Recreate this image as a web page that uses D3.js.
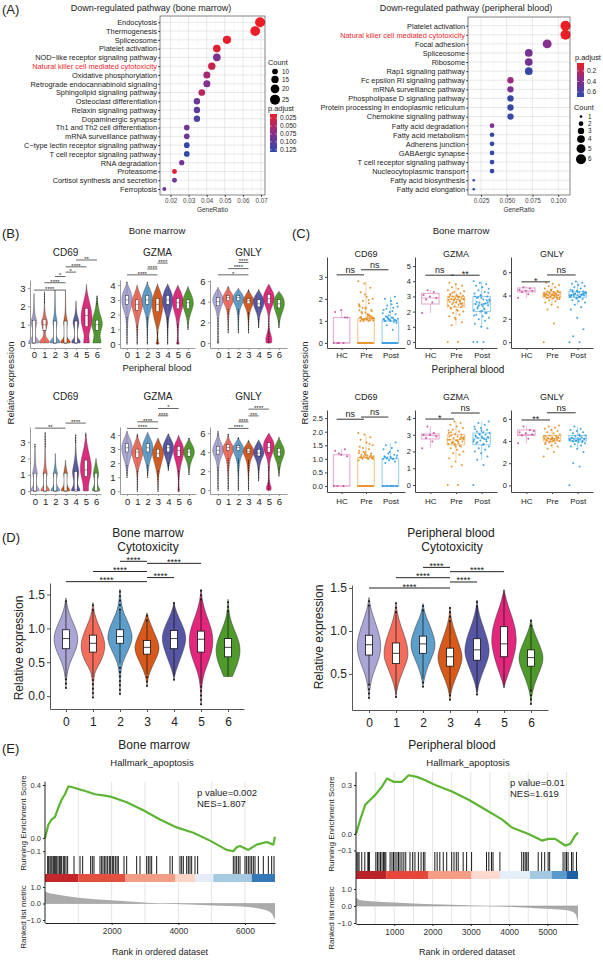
<!DOCTYPE html>
<html>
<head>
<meta charset="utf-8">
<script src="https://cdn.jsdelivr.net/npm/d3@7"></script>
<style>
  body { margin: 0; background: #fff; }
  text { font-family: "Liberation Sans", Arial, sans-serif; }
</style>
</head>
<body>
<svg width="603" height="960"></svg>
<script>
// ---------- data: (A) enrichment dot plots ----------
const bmPathways = ['Endocytosis', 'Thermogenesis', 'Spliceosome', 'Platelet activation',
  'NOD\u2212like receptor signaling pathway', 'Natural killer cell mediated cytotoxicity',
  'Oxidative phosphorylation', 'Retrograde endocannabinoid signaling', 'Sphingolipid signaling pathway',
  'Osteoclast differentiation', 'Relaxin signaling pathway', 'Dopaminergic synapse',
  'Th1 and Th2 cell differentiation', 'mRNA surveillance pathway', 'C\u2212type lectin receptor signaling pathway',
  'T cell receptor signaling pathway', 'RNA degradation', 'Proteasome', 'Cortisol synthesis and secretion', 'Ferroptosis']
const bmRatio = [0.0695, 0.0668, 0.0512, 0.0456, 0.0456, 0.0428, 0.0401, 0.0401, 0.0373, 0.0346, 0.0346, 0.0346,
  0.0290, 0.0290, 0.0290, 0.0290, 0.0262, 0.0222, 0.0222, 0.0166]
const bmCount = [25, 24, 18, 16, 16, 15, 14, 14, 13, 12, 12, 12, 10, 10, 10, 10, 9, 8, 8, 6]
const bmPadj = [0.012, 0.014, 0.016, 0.02, 0.08, 0.035, 0.055, 0.075, 0.045, 0.092, 0.1, 0.112,
  0.088, 0.09, 0.128, 0.128, 0.085, 0.022, 0.09, 0.088]
const bmTicks = [0.02, 0.03, 0.04, 0.05, 0.06, 0.07]
const bmCountLegend = [10, 15, 20, 25]
const bmPadjLegend = [0.025, 0.05, 0.075, 0.1, 0.125]

const pbPathways = ['Platelet activation', 'Natural killer cell mediated cytotoxicity', 'Focal adhesion',
  'Spliceosome', 'Ribosome', 'Rap1 signaling pathway', 'Fc epsilon RI signaling pathway',
  'mRNA surveillance pathway', 'Phospholipase D signaling pathway', 'Protein processing in endoplasmic reticulum',
  'Chemokine signaling pathway', 'Fatty acid degradation', 'Fatty acid metabolism', 'Adherens junction',
  'GABAergic synapse', 'T cell receptor signaling pathway', 'Nucleocytoplasmic transport',
  'Fatty acid biosynthesis', 'Fatty acid elongation']
const pbRatio = [0.1071, 0.1071, 0.0893, 0.0714, 0.0714, 0.0714, 0.0536, 0.0536, 0.0536, 0.0536, 0.0536,
  0.0357, 0.0357, 0.0357, 0.0357, 0.0357, 0.0357, 0.0179, 0.0179]
const pbCount = [6, 6, 5, 4, 4, 4, 3, 3, 3, 3, 3, 2, 2, 2, 2, 2, 2, 1, 1]
const pbPadj = [0.05, 0.05, 0.38, 0.44, 0.44, 0.66, 0.32, 0.42, 0.66, 0.66, 0.66, 0.42, 0.66, 0.66,
  0.66, 0.66, 0.66, 0.68, 0.68]
const pbTicks = [0.025, 0.05, 0.075, 0.1]
const pbCountLegend = [1, 2, 3, 4, 5, 6]
const pbPadjLegend = [0.2, 0.4, 0.6]

// ---------- data: (B)/(D) violins, knots are [value, relative width] ----------
const clusters = ['0', '1', '2', '3', '4', '5', '6']
const clusterColors = ['#a9a5d5', '#f36c5c', '#5d9ecb', '#d75a1c', '#5656a4', '#e2277c', '#4e9a2b']

const bmCD69Violin = [
  [[0, 0.85], [0.1, 1], [0.25, 0.45], [0.45, 0.15], [0.7, 0.2], [1.0, 0.45], [1.2, 0.55], [1.4, 0.3], [1.7, 0.1], [2.2, 0.03], [2.7, 0]],
  [[0, 0.8], [0.1, 0.9], [0.25, 0.4], [0.45, 0.12], [0.7, 0.2], [1.0, 0.5], [1.15, 0.6], [1.35, 0.3], [1.7, 0.08], [2.2, 0.03], [2.8, 0]],
  [[0, 0.8], [0.1, 0.9], [0.25, 0.4], [0.45, 0.12], [0.7, 0.15], [1.0, 0.35], [1.2, 0.4], [1.45, 0.2], [1.8, 0.06], [2.9, 0]],
  [[0, 0.8], [0.1, 0.9], [0.25, 0.35], [0.45, 0.1], [0.7, 0.12], [1.0, 0.3], [1.2, 0.35], [1.45, 0.15], [1.8, 0.05], [2.9, 0]],
  [[0, 0.7], [0.1, 0.8], [0.25, 0.35], [0.45, 0.12], [0.7, 0.25], [1.0, 0.5], [1.2, 0.55], [1.45, 0.25], [1.8, 0.06], [2.3, 0]],
  [[0, 0.5], [0.15, 0.5], [0.4, 0.35], [0.7, 0.6], [1.0, 0.85], [1.4, 1], [1.8, 0.85], [2.2, 0.55], [2.6, 0.25], [2.9, 0.08], [3.2, 0]],
  [[0, 0.7], [0.15, 0.7], [0.4, 0.45], [0.7, 0.7], [1.0, 1], [1.3, 0.85], [1.6, 0.5], [2.0, 0.2], [2.6, 0]]
]
const bmCD69Box = [[0, 0, 1.25], [0.7, 1.0, 1.3], [0, 0, 1.2], [0, 0, 1.2], [0, 0, 1.2], [0.9, 1.5, 1.9], [0.7, 1.0, 1.25]]
const bmCD69Sig = [[0, 3, '****', 2.89], [1, 3, '****', 3.29], [2, 3, '*', 3.63], [3, 4, '*', 3.87], [3, 5, '****', 4.16], [4, 6, '**', 4.53]]

const bmGZMAViolin = [
  [[0, 0], [0.8, 0.05], [1.5, 0.12], [2.0, 0.3], [2.5, 0.75], [3.0, 1], [3.5, 0.75], [3.9, 0.25], [4.2, 0]],
  [[0, 0], [0.8, 0.06], [1.5, 0.2], [2.0, 0.55], [2.5, 0.9], [2.8, 1], [3.2, 0.7], [3.6, 0.3], [4.0, 0]],
  [[0, 0], [0.8, 0.05], [1.5, 0.12], [2.0, 0.3], [2.5, 0.75], [3.0, 1], [3.5, 0.75], [3.9, 0.25], [4.2, 0]],
  [[0, 0.3], [0.3, 0.05], [1.0, 0.1], [1.5, 0.45], [2.0, 0.75], [2.5, 0.95], [3.0, 0.95], [3.5, 0.55], [3.9, 0.15], [4.1, 0]],
  [[0, 0], [0.8, 0.05], [1.5, 0.12], [2.0, 0.3], [2.5, 0.75], [3.0, 1], [3.5, 0.7], [3.9, 0.2], [4.1, 0]],
  [[0, 0.25], [0.3, 0.05], [1.0, 0.08], [1.8, 0.3], [2.3, 0.7], [2.8, 1], [3.3, 0.8], [3.7, 0.35], [4.0, 0]],
  [[1.0, 0], [1.5, 0.1], [2.0, 0.4], [2.5, 0.85], [2.8, 1], [3.2, 0.8], [3.6, 0.3], [3.9, 0]]
]
const bmGZMABox = [[2.7, 3.0, 3.3], [2.3, 2.7, 3.0], [2.7, 3.0, 3.3], [2.2, 2.7, 3.1], [2.7, 3.0, 3.3], [2.4, 2.8, 3.1], [2.4, 2.8, 3.0]]
const bmGZMASig = [[0, 3, '****', 4.7], [2, 3, '****', 5.1], [3, 4, '****', 5.5]]

const bmGNLYViolin = [
  [[0, 0.15], [0.3, 0.03], [1.5, 0.05], [2.5, 0.1], [3.2, 0.35], [3.8, 0.8], [4.2, 1], [4.6, 0.75], [5.0, 0.35], [5.4, 0]],
  [[1.0, 0], [2, 0.05], [3.0, 0.15], [3.6, 0.5], [4.0, 0.9], [4.4, 1], [4.8, 0.65], [5.2, 0.2], [5.5, 0]],
  [[1.0, 0], [2, 0.05], [3.0, 0.15], [3.6, 0.5], [4.0, 0.9], [4.4, 1], [4.8, 0.65], [5.1, 0.2], [5.3, 0]],
  [[1.0, 0], [2, 0.05], [3.0, 0.2], [3.6, 0.65], [4.0, 1], [4.3, 0.9], [4.7, 0.45], [5.0, 0.1], [5.2, 0]],
  [[1.5, 0], [2.5, 0.15], [3.0, 0.4], [3.5, 0.8], [3.9, 1], [4.3, 0.9], [4.7, 0.5], [5.0, 0.15], [5.2, 0]],
  [[0, 0.45], [0.4, 0.6], [0.9, 0.3], [1.5, 0.04], [2.5, 0.06], [3.2, 0.3], [3.8, 0.75], [4.3, 1], [4.8, 0.85], [5.3, 0.4], [5.7, 0]],
  [[1.5, 0], [2.2, 0.15], [2.8, 0.45], [3.3, 0.8], [3.8, 1], [4.3, 0.85], [4.7, 0.45], [5.0, 0]]
]
const bmGNLYBox = [[3.6, 4.0, 4.4], [4.1, 4.4, 4.6], [4.1, 4.4, 4.6], [3.8, 4.1, 4.3], [3.5, 3.8, 4.2], [3.8, 4.3, 4.7], [3.4, 3.8, 4.2]]
const bmGNLYSig = [[0, 3, '*', 6.6], [1, 3, '****', 7.2], [2, 3, '****', 7.8]]

const pbCD69Violin = [
  [[0, 0.7], [0.1, 0.8], [0.3, 0.3], [0.6, 0.1], [0.9, 0.3], [1.1, 0.45], [1.3, 0.3], [1.7, 0.08], [2.9, 0]],
  [[0, 0.7], [0.1, 0.8], [0.3, 0.3], [0.6, 0.1], [0.9, 0.3], [1.1, 0.4], [1.3, 0.25], [1.7, 0.06], [3.6, 0]],
  [[0, 0.7], [0.1, 0.8], [0.3, 0.3], [0.6, 0.1], [0.9, 0.3], [1.1, 0.4], [1.3, 0.2], [1.7, 0.05], [2.3, 0]],
  [[0, 0.7], [0.1, 0.8], [0.3, 0.3], [0.6, 0.1], [0.9, 0.25], [1.1, 0.35], [1.3, 0.2], [1.7, 0.05], [1.9, 0]],
  [[0, 0.7], [0.1, 0.8], [0.3, 0.4], [0.6, 0.3], [0.9, 0.5], [1.2, 0.6], [1.5, 0.4], [2.0, 0.15], [2.6, 0.04], [3.5, 0]],
  [[0, 0.45], [0.2, 0.45], [0.5, 0.5], [0.9, 0.8], [1.3, 1], [1.8, 0.9], [2.3, 0.55], [2.8, 0.25], [3.3, 0.08], [3.6, 0]],
  [[0, 0.6], [0.1, 0.7], [0.3, 0.35], [0.6, 0.2], [0.9, 0.45], [1.1, 0.5], [1.4, 0.3], [1.8, 0.08], [2.0, 0]]
]
const pbCD69Box = [[0, 0, 1.1], [0, 0, 1.1], [0, 0, 1.1], [0, 0, 1.1], [0, 0.1, 1.2], [0.9, 1.3, 1.9], [0, 0, 1.1]]
const pbCD69Sig = [[0, 3, '**', 3.86], [3, 5, '****', 4.17]]

const pbGZMAViolin = [
  [[1.0, 0], [1.5, 0.1], [2.0, 0.3], [2.5, 0.7], [3.0, 1], [3.5, 0.8], [3.9, 0.3], [4.3, 0]],
  [[0, 0], [1.0, 0.05], [1.5, 0.15], [2.0, 0.5], [2.5, 0.9], [2.8, 1], [3.2, 0.7], [3.7, 0.2], [4.1, 0]],
  [[1.0, 0], [1.5, 0.1], [2.0, 0.3], [2.5, 0.7], [3.0, 1], [3.5, 0.8], [3.9, 0.3], [4.2, 0]],
  [[0, 0], [1.0, 0.08], [1.5, 0.3], [2.0, 0.6], [2.5, 0.95], [2.8, 1], [3.2, 0.65], [3.6, 0.2], [3.8, 0]],
  [[1.5, 0], [2.0, 0.2], [2.5, 0.6], [3.0, 1], [3.4, 0.85], [3.8, 0.35], [4.1, 0]],
  [[0, 0.15], [0.4, 0.05], [1.0, 0.08], [1.8, 0.3], [2.4, 0.75], [2.9, 1], [3.4, 0.65], [3.8, 0.15], [4.0, 0]],
  [[1.2, 0], [1.7, 0.12], [2.2, 0.45], [2.6, 0.9], [2.8, 1], [3.2, 0.75], [3.5, 0.3], [3.8, 0]]
]
const pbGZMABox = [[2.8, 3.1, 3.4], [2.4, 2.8, 3.0], [2.8, 3.1, 3.4], [2.4, 2.7, 3.0], [2.8, 3.1, 3.3], [2.5, 2.9, 3.2], [2.5, 2.8, 3.0]]
const pbGZMASig = [[0, 3, '****', 4.48], [1, 3, '****', 4.95], [3, 4, '****', 5.38], [3, 5, '*', 5.9]]

const pbGNLYViolin = [
  [[0, 0], [1, 0.04], [2, 0.08], [3, 0.25], [3.6, 0.65], [4.1, 1], [4.6, 0.85], [5.2, 0.4], [5.7, 0.1], [6.2, 0]],
  [[0, 0], [1.5, 0.05], [3, 0.2], [3.6, 0.55], [4.1, 0.9], [4.5, 1], [4.9, 0.6], [5.4, 0.15], [5.9, 0]],
  [[0, 0], [1.5, 0.05], [3, 0.2], [3.6, 0.55], [4.1, 0.9], [4.5, 1], [4.9, 0.6], [5.3, 0.15], [5.6, 0]],
  [[0, 0], [1.5, 0.05], [3, 0.25], [3.6, 0.7], [4.0, 1], [4.4, 0.85], [4.8, 0.4], [5.1, 0.1], [5.3, 0]],
  [[1.0, 0], [2, 0.05], [3, 0.3], [3.5, 0.75], [3.9, 1], [4.4, 0.8], [4.9, 0.35], [5.3, 0]],
  [[0, 0.35], [0.3, 0.5], [0.7, 0.15], [1.5, 0.04], [3, 0.15], [3.6, 0.45], [4.2, 0.85], [4.7, 1], [5.2, 0.8], [5.6, 0.4], [6.0, 0]],
  [[1.5, 0], [2.5, 0.2], [3.2, 0.55], [3.7, 0.9], [4.1, 1], [4.6, 0.8], [5.0, 0.4], [5.4, 0.1], [5.6, 0]]
]
const pbGNLYBox = [[3.8, 4.2, 4.6], [4.2, 4.5, 4.8], [4.2, 4.5, 4.7], [3.9, 4.1, 4.4], [3.6, 3.9, 4.3], [4.0, 4.5, 5.0], [3.6, 4.0, 4.4]]
const pbGNLYSig = [[1, 3, '****', 6.5], [2, 3, '****', 7.19], [3, 4, '***', 7.82], [3, 5, '****', 8.53]]

const cytoBmViolin = [
  [[0.12, 0], [0.25, 0.04], [0.4, 0.15], [0.55, 0.45], [0.7, 0.85], [0.85, 1], [1.0, 0.8], [1.15, 0.4], [1.3, 0.12], [1.45, 0]],
  [[-0.02, 0], [0.2, 0.04], [0.35, 0.12], [0.45, 0.45], [0.6, 0.85], [0.75, 1], [0.9, 0.8], [1.05, 0.45], [1.2, 0.12], [1.38, 0]],
  [[0.03, 0], [0.35, 0.05], [0.5, 0.2], [0.65, 0.6], [0.8, 0.95], [0.9, 1], [1.05, 0.75], [1.2, 0.35], [1.35, 0.1], [1.58, 0]],
  [[0.15, 0], [0.3, 0.1], [0.45, 0.45], [0.6, 0.85], [0.7, 1], [0.8, 0.9], [0.95, 0.55], [1.1, 0.2], [1.23, 0]],
  [[0.24, 0], [0.35, 0.1], [0.5, 0.4], [0.7, 0.8], [0.85, 1], [1.0, 0.8], [1.15, 0.4], [1.3, 0.08], [1.38, 0]],
  [[-0.12, 0], [0.2, 0.05], [0.4, 0.35], [0.6, 0.8], [0.8, 1], [1.0, 0.85], [1.2, 0.4], [1.4, 0.1], [1.58, 0]],
  [[0.29, 0.35], [0.4, 0.6], [0.55, 0.9], [0.7, 1], [0.85, 0.8], [1.0, 0.45], [1.15, 0.15], [1.3, 0.04], [1.43, 0]]
]
const cytoBmBox = [[0.7, 0.85, 0.98], [0.65, 0.78, 0.9], [0.78, 0.88, 0.98], [0.62, 0.72, 0.82], [0.7, 0.85, 0.97], [0.65, 0.84, 0.96], [0.58, 0.72, 0.85]]
const cytoBmSig = [[0, 3, '****', 1.69], [1, 3, '****', 1.84], [2, 3, '****', 1.99], [3, 4, '****', 1.75], [3, 5, '****', 1.96]]

const cytoPbViolin = [
  [[0.22, 0], [0.35, 0.08], [0.5, 0.3], [0.65, 0.75], [0.8, 1], [0.95, 0.85], [1.1, 0.5], [1.25, 0.15], [1.39, 0]],
  [[0.23, 0], [0.35, 0.1], [0.5, 0.45], [0.65, 0.9], [0.75, 1], [0.9, 0.8], [1.05, 0.4], [1.2, 0.1], [1.33, 0]],
  [[0.35, 0], [0.45, 0.1], [0.6, 0.4], [0.75, 0.9], [0.85, 1], [0.95, 0.85], [1.1, 0.45], [1.2, 0.15], [1.32, 0]],
  [[0.2, 0], [0.35, 0.15], [0.5, 0.6], [0.65, 1], [0.75, 0.95], [0.9, 0.6], [1.05, 0.25], [1.15, 0.08], [1.28, 0]],
  [[0.26, 0], [0.4, 0.15], [0.55, 0.55], [0.7, 0.95], [0.8, 1], [0.95, 0.75], [1.1, 0.35], [1.25, 0.08], [1.36, 0]],
  [[0.34, 0], [0.45, 0.2], [0.6, 0.6], [0.8, 0.95], [0.9, 1], [1.05, 0.9], [1.2, 0.55], [1.35, 0.2], [1.48, 0]],
  [[0.15, 0], [0.3, 0.1], [0.45, 0.45], [0.6, 0.9], [0.7, 1], [0.8, 0.8], [0.95, 0.35], [1.05, 0.1], [1.14, 0]]
]
const cytoPbBox = [[0.72, 0.84, 0.95], [0.62, 0.74, 0.86], [0.74, 0.85, 0.94], [0.59, 0.7, 0.8], [0.66, 0.78, 0.91], [0.7, 0.85, 1.05], [0.59, 0.69, 0.78]]
const cytoPbSig = [[0, 3, '****', 1.5], [1, 3, '****', 1.62], [2, 3, '****', 1.74], [3, 4, '****', 1.57], [3, 5, '****', 1.69]]

// ---------- data: (C) box + jitter ----------
const groups = ['HC', 'Pre', 'Post']
const groupColors = ['#c4499c', '#e38c1e', '#2c9ae0']
const groupBoxColors = ['#e4a6cf', '#f2c48d', '#92cbef']

const cBmCD69Pts = [
  [0, 0, 0, 1.15, 1.5, 1.4, 1.15, 0],
  [0, 0, 0, 0, 0, 0, 0, 0, 0, 0, 0, 0, 0, 0, 1.0, 1.05, 1.1, 1.1, 1.15, 1.2, 1.05, 1.12, 1.3, 1.4, 1.5, 1.6, 1.7, 1.8, 1.9, 2.0,
    2.1, 2.3, 2.5, 2.7, 2.8, 1.25, 1.35, 1.45, 1.55, 1.65, 1.1, 1.0, 1.02, 1.08, 1.18, 1.22, 2.2, 1.75, 1.95, 1.6, 1.15, 1.05,
    1.0, 1.03, 1.07, 1.12, 1.17, 1.09, 1.14, 1.38, 1.48, 1.28],
  [0, 0, 0, 0, 0, 0, 0, 0, 0, 0, 0, 0, 0, 0, 0.6, 0.8, 0.9, 1.0, 1.0, 1.05, 1.1, 1.1, 1.15, 1.2, 1.3, 1.4, 1.5, 1.6, 1.7, 1.8,
    1.9, 2.0, 2.1, 1.25, 1.35, 1.45, 1.55, 1.0, 1.02, 1.08, 0.95, 1.12, 1.65, 1.75, 1.0, 1.04, 1.06, 1.09, 1.13, 1.18]
]
const cBmCD69Box = [[0, 0, 0, 1.15, 1.5], [0, 0, 0, 1.1, 2.8], [0, 0, 0, 1.0, 2.1]]
const cBmCD69Sig = [[0, 1, 'ns', 3.09], [1, 2, 'ns', 3.32]]

const cBmGZMAPts = [
  [1.9, 2.6, 2.8, 2.9, 3.0, 3.1, 3.3, 3.4],
  [0, 0, 1.1, 1.3, 1.5, 1.7, 1.8, 1.9, 2.0, 2.1, 2.2, 2.3, 2.35, 2.4, 2.45, 2.5, 2.55, 2.6, 2.65, 2.7, 2.75, 2.8, 2.8,
    2.85, 2.9, 2.9, 2.95, 3.0, 3.0, 3.05, 3.1, 3.15, 3.2, 3.3, 3.4, 3.5, 3.6, 3.7, 3.8, 3.9, 2.7, 2.6, 2.85, 3.0, 2.2, 2.5, 1.6,
    2.75, 2.95, 3.25, 2.4, 2.65, 3.1, 2.55, 2.8, 3.35, 2.05],
  [0, 0, 0, 0.9, 1.0, 1.2, 1.4, 1.5, 1.6, 1.7, 1.8, 1.9, 2.0, 2.1, 2.2, 2.3, 2.4, 2.45, 2.5, 2.55, 2.6, 2.7, 2.8, 2.9,
    3.0, 3.1, 3.2, 3.3, 3.4, 3.5, 3.6, 3.7, 3.8, 3.9, 4.0, 2.5, 2.2, 2.6, 2.9, 3.0, 1.9, 2.4, 2.8,
    2.35, 2.65, 2.75, 3.05, 1.75, 2.15, 2.95, 3.25, 2.05]
]
const cBmGZMABox = [[1.9, 2.5, 2.9, 3.2, 3.4], [1.1, 2.3, 2.8, 3.0, 3.9], [0.9, 2.0, 2.5, 3.0, 4.0]]
const cBmGZMASig = [[0, 1, 'ns', 4.4], [1, 2, '**', 4.4]]

const cBmGNLYPts = [
  [3.8, 4.1, 4.3, 4.4, 4.4, 4.5, 4.6, 4.7],
  [0, 1.6, 2.8, 3.0, 3.2, 3.4, 3.5, 3.6, 3.7, 3.75, 3.8, 3.85, 3.9, 3.95, 4.0, 4.0, 4.05, 4.1, 4.1, 4.15, 4.2, 4.25,
    4.3, 4.35, 4.4, 4.5, 4.6, 4.7, 4.8, 4.9, 5.0, 5.1, 4.0, 3.9, 4.1, 4.2, 3.8, 4.3, 4.05,
    3.95, 4.15, 4.25, 3.85, 4.0, 4.1, 3.7, 4.45, 4.2, 3.9],
  [0, 0, 0.5, 1.1, 2.1, 2.8, 3.0, 3.2, 3.4, 3.5, 3.6, 3.7, 3.8, 3.85, 3.9, 3.95, 4.0, 4.0, 4.05, 4.1, 4.15, 4.2, 4.25,
    4.3, 4.35, 4.4, 4.5, 4.6, 4.7, 4.8, 4.9, 5.0, 5.1, 5.2, 4.0, 3.9, 4.1, 4.2, 4.3,
    3.95, 4.05, 4.15, 4.25, 3.85, 4.45, 4.1, 3.75]
]
const cBmGNLYBox = [[3.8, 4.3, 4.4, 4.65, 4.8], [3.2, 3.8, 4.05, 4.3, 4.9], [3.2, 3.85, 4.05, 4.35, 5.2]]
const cBmGNLYSig = [[0, 1, '*', 5.17], [1, 2, 'ns', 5.76]]

const cPbCD69Pts = [
  [0, 0, 0, 1.1, 1.15, 1.3, 1.35, 1.2],
  [0, 0, 0, 0, 0, 0, 0, 0, 0, 0, 0, 0, 0, 0.95, 1.0, 1.0, 1.02, 1.05, 1.05, 1.08, 1.1, 1.1, 1.12, 1.15, 1.2, 1.25, 1.3, 1.35,
    1.4, 1.5, 1.6, 1.7, 1.8, 1.9, 1.95, 1.0, 1.03, 1.07, 1.15, 1.45, 1.55, 1.25, 1.0, 1.04, 1.09, 1.13, 1.18, 1.22],
  [0, 0, 0, 0, 0, 0, 0, 0, 0, 0, 0.85, 0.9, 0.95, 1.0, 1.0, 1.02, 1.05, 1.08, 1.1, 1.15, 1.2, 1.3, 1.4, 1.5, 1.6, 1.25,
    1.35, 1.0, 1.05, 1.12, 1.03, 1.07]
]
const cPbCD69Box = [[0, 0, 0, 1.15, 1.35], [0, 0, 0, 1.05, 1.9], [0, 0, 0, 1.0, 1.6]]
const cPbCD69Sig = [[0, 1, 'ns', 2.46], [1, 2, 'ns', 2.54]]

const cPbGZMAPts = [
  [2.2, 2.6, 2.8, 2.9, 3.0, 3.0, 3.1, 3.5],
  [0, 0, 1.1, 1.2, 1.4, 1.6, 1.8, 1.9, 2.0, 2.1, 2.2, 2.3, 2.4, 2.45, 2.5, 2.55, 2.6, 2.65, 2.7, 2.75, 2.8, 2.85, 2.9,
    2.95, 3.0, 3.05, 3.1, 3.2, 3.3, 3.4, 3.5, 3.6, 3.7, 3.8, 2.7, 2.6, 2.5, 2.8, 2.3, 2.9,
    2.35, 2.55, 2.75, 2.65, 3.15, 2.85, 2.45, 3.25],
  [0, 1.2, 1.5, 1.7, 1.9, 2.0, 2.1, 2.2, 2.3, 2.4, 2.5, 2.6, 2.65, 2.7, 2.75, 2.8, 2.85, 2.9, 2.95, 3.0, 3.05, 3.1,
    3.15, 3.2, 3.3, 3.4, 3.5, 3.6, 3.7, 3.8, 2.8, 2.9, 2.7, 3.0, 2.6, 2.45, 2.55, 2.85, 3.25, 3.35]
]
const cPbGZMABox = [[2.2, 2.75, 2.95, 3.05, 3.5], [1.5, 2.4, 2.7, 3.0, 3.8], [1.5, 2.4, 2.8, 3.1, 3.8]]
const cPbGZMASig = [[0, 1, '*', 3.94], [1, 2, 'ns', 4.3]]

const cPbGNLYPts = [
  [3.8, 4.2, 4.5, 4.6, 4.7, 4.8, 5.0, 5.3, 4.9],
  [2.6, 3.0, 3.3, 3.5, 3.6, 3.7, 3.8, 3.9, 4.0, 4.0, 4.05, 4.1, 4.15, 4.2, 4.2, 4.25, 4.3, 4.35, 4.4, 4.45, 4.5, 4.6,
    4.7, 4.8, 4.9, 5.0, 5.1, 5.2, 5.3, 5.4, 4.2, 4.1, 4.3, 3.95, 4.4, 4.05, 4.25, 4.35, 4.15, 3.85],
  [0, 1.7, 2.0, 3.0, 3.3, 3.5, 3.6, 3.7, 3.8, 3.9, 4.0, 4.0, 4.05, 4.1, 4.15, 4.2, 4.2, 4.25, 4.3, 4.35, 4.4, 4.5,
    4.6, 4.7, 4.8, 4.9, 5.0, 5.1, 5.3, 4.2, 4.1, 4.3, 3.9, 4.05, 4.15, 4.45, 3.95]
]
const cPbGNLYBox = [[3.8, 4.5, 4.6, 5.0, 5.3], [3.3, 4.0, 4.2, 4.5, 5.3], [3.3, 4.0, 4.2, 4.5, 5.3]]
const cPbGNLYSig = [[0, 1, '**', 5.9], [1, 2, 'ns', 6.55]]

// ---------- data: (E) GSEA ----------
const bmEs = [[0, 0], [100, 0.1], [200, 0.14], [300, 0.16], [400, 0.23], [500, 0.29], [600, 0.33], [700, 0.39],
  [800, 0.385], [1000, 0.37], [1200, 0.355], [1500, 0.33], [1800, 0.32], [2000, 0.31], [2450, 0.27], [2950, 0.21],
  [3450, 0.14], [3950, 0.08], [4450, 0.04], [4950, -0.02], [5450, -0.09], [5650, -0.1], [5750, -0.07], [5850, -0.06],
  [6100, -0.09], [6350, -0.05], [6650, -0.03], [6850, -0.05], [6900, 0.01]]
const bmHits = [80, 110, 150, 180, 210, 250, 280, 310, 350, 390, 430, 460, 500, 550, 590, 630, 680, 870, 1050, 1130,
  1370, 1420, 1470, 1650, 1700, 1740, 1790, 1830, 1880, 1930, 1970, 2020, 2060, 2110, 2160, 2200, 2370, 2450, 2750,
  2850, 3050, 3100, 3150, 3200, 3350, 3750, 3820, 4050, 4100, 4150, 4250, 4300, 4350, 4400, 4500, 4580, 5650, 5700,
  5750, 5800, 5850, 6000, 6050, 6100, 6150, 6200, 6250, 6300, 6400, 6550, 6700, 6800, 6870]
const bmBands = [[0, 1000, '#c4262b'], [1000, 2400, '#e4503f'], [2400, 3900, '#f39c86'], [3900, 4500, '#fbd6c7'],
  [4500, 5050, '#e6edf7'], [5050, 6200, '#a5cae2'], [6200, 6900, '#3579b9']]
const bmMetric = [[0, 0.75], [100, 0.65], [350, 0.55], [1000, 0.35], [2000, 0.2], [2850, 0.08], [3500, 0],
  [4300, -0.06], [5050, -0.12], [6000, -0.2], [6550, -0.36], [6800, -0.6], [6900, -1.0]]

const pbEs = [[0, 0], [113, 0.09], [243, 0.18], [374, 0.21], [504, 0.24], [678, 0.29], [809, 0.34], [983, 0.32],
  [1200, 0.32], [1375, 0.36], [1593, 0.35], [1810, 0.33], [2071, 0.3], [2507, 0.26], [2942, 0.21], [3377, 0.15],
  [3812, 0.09], [4073, 0.04], [4508, 0], [4856, -0.04], [5030, -0.03], [5204, -0.03], [5465, -0.07], [5596, -0.06],
  [5726, -0.01], [5800, 0.01]]
const pbHits = [20, 50, 80, 150, 230, 310, 330, 350, 520, 560, 600, 640, 680, 720, 750, 780, 890, 940, 980, 1020,
  1070, 1110, 1150, 1200, 1250, 1300, 1410, 1480, 1540, 1630, 1700, 1760, 1800, 2060, 2120, 2190, 2280, 2370, 2500,
  2560, 2620, 2670, 2800, 2890, 3020, 3410, 3470, 3540, 3580, 3760, 4330, 4380, 4420, 4460, 4500, 4760, 4850, 4930,
  5020, 5060, 5410, 5460, 5500, 5540, 5630, 5670, 5760]
const pbBands = [[0, 800, '#b92227'], [800, 1880, '#e8463a'], [1880, 3020, '#f49c84'], [3020, 3760, '#fcdacd'],
  [3760, 4540, '#e6eef8'], [4540, 5110, '#a5c9e2'], [5110, 5500, '#5a9bcc'], [5500, 5800, '#1f5fa6']]
const pbMetric = [[0, 0.5], [100, 0.35], [400, 0.28], [1000, 0.2], [2000, 0.1], [3000, 0.03], [3800, -0.03],
  [4500, -0.1], [5100, -0.18], [5500, -0.25], [5700, -0.4], [5760, -0.6], [5800, -1.0]]

// ---------- drawing ----------
const svg = d3.select('svg')

function label (x, y, s, size, anchor = 'start', fill = '#222') {
  return svg.append('text').attr('x', x).attr('y', y).attr('font-size', size)
    .attr('text-anchor', anchor).attr('fill', fill).text(s)
}
function vlabel (x, y, s, size) {
  return svg.append('text').attr('transform', `translate(${x},${y}) rotate(-90)`)
    .attr('font-size', size).attr('text-anchor', 'middle').attr('fill', '#222').text(s)
}
function styleAxis (sel, color, size, textColor = '#222') {
  sel.attr('font-size', size)
  sel.select('.domain').attr('stroke', color)
  sel.selectAll('.tick line').attr('stroke', color)
  sel.selectAll('.tick text').attr('fill', textColor)
}

// (A) dot plot
function dotPlot (o) {
  const g = svg.append('g')
  const x = d3.scaleLinear().domain(o.xDomain).range([o.left, o.right])
  const y = d3.scalePoint().domain(o.names).range([o.first, o.last])
  const r = d3.scaleSqrt().domain(o.countRange).range(o.rRange)
  const c = d3.scaleLinear().domain(o.padjStops).range(['#ee1d25', '#8a2d8e', '#2b4ba8'])

  g.append('rect').attr('x', o.left).attr('y', o.top).attr('width', o.right - o.left)
    .attr('height', o.bottom - o.top).attr('fill', '#fff')
  const step = o.ticks[1] - o.ticks[0]
  const minor = o.ticks.map(t => t - step / 2).concat([o.ticks[o.ticks.length - 1] + step / 2])
    .filter(t => t > o.xDomain[0] && t < o.xDomain[1])
  g.selectAll('.minor').data(minor).join('line').attr('class', 'minor')
    .attr('x1', x).attr('x2', x).attr('y1', o.top).attr('y2', o.bottom)
    .attr('stroke', '#f0f0f0').attr('stroke-width', 0.5)
  g.selectAll('.vmaj').data(o.ticks).join('line').attr('class', 'vmaj')
    .attr('x1', x).attr('x2', x).attr('y1', o.top).attr('y2', o.bottom)
    .attr('stroke', '#e2e2e2').attr('stroke-width', 0.8)
  g.selectAll('.hmaj').data(o.names).join('line').attr('class', 'hmaj')
    .attr('x1', o.left).attr('x2', o.right).attr('y1', y).attr('y2', y)
    .attr('stroke', '#e2e2e2').attr('stroke-width', 0.8)

  g.selectAll('.dot').data(o.names).join('circle').attr('class', 'dot')
    .attr('cx', (d, i) => x(o.ratio[i])).attr('cy', d => y(d))
    .attr('r', (d, i) => r(o.count[i])).attr('fill', (d, i) => c(o.padj[i]))

  g.append('rect').attr('x', o.left).attr('y', o.top).attr('width', o.right - o.left)
    .attr('height', o.bottom - o.top).attr('fill', 'none').attr('stroke', '#333').attr('stroke-width', 0.6)

  g.append('g').attr('transform', `translate(0,${o.bottom})`)
    .call(d3.axisBottom(x).tickValues(o.ticks).tickFormat(d3.format(o.fmt)).tickSize(1.8).tickPadding(1.4).tickSizeOuter(0))
    .call(styleAxis, '#333', 6.3, '#444')
    .call(a => a.select('.domain').remove())
  g.append('g').attr('transform', `translate(${o.left},0)`)
    .call(d3.axisLeft(y).tickSize(1.8).tickPadding(1.2))
    .call(styleAxis, '#333', 7.4, '#1a1a1a')
    .call(a => a.select('.domain').remove())
    .call(a => a.selectAll('.tick text').filter(d => d === 'Natural killer cell mediated cytotoxicity').attr('fill', '#e8262c'))

  label(o.titleX, 11, o.title, 9, 'middle')
  label((o.left + o.right) / 2, 212, 'GeneRatio', 6.5, 'middle', '#333')

  // legends
  const lg = svg.append('g')
  lg.append('text').attr('x', o.countX).attr('y', o.countY).attr('font-size', 7.4).attr('fill', '#222').text('Count')
  let cy = o.countY + 1.5
  o.countLegend.forEach((v, i) => {
    const rr = r(v)
    cy += (i === 0 ? Math.max(rr + 1.5, 5) : Math.max(rr + r(o.countLegend[i - 1]) + o.countGap, o.minGap))
    lg.append('circle').attr('cx', o.countX + 7).attr('cy', cy).attr('r', rr).attr('fill', '#000')
    lg.append('text').attr('x', o.countX + 14).attr('y', cy + 2.2).attr('font-size', 6.3).attr('fill', '#222').text(v)
  })
  lg.append('text').attr('x', o.padjX).attr('y', o.padjY).attr('font-size', 7.4).attr('fill', '#222').text('p.adjust')
  const cb = d3.scaleLinear().domain([o.padjStops[0], o.padjStops[2]]).range([o.padjY + 3, o.padjY + 3 + o.barH])
  const gid = 'grad' + o.id
  const grad = svg.append('defs').append('linearGradient').attr('id', gid)
    .attr('x1', 0).attr('x2', 0).attr('y1', 0).attr('y2', 1)
  d3.range(0, 1.01, 0.1).forEach(t => {
    grad.append('stop').attr('offset', t)
      .attr('stop-color', c(o.padjStops[0] + t * (o.padjStops[2] - o.padjStops[0])))
  })
  lg.append('rect').attr('x', o.padjX + 2).attr('y', o.padjY + 3).attr('width', 7).attr('height', o.barH)
    .attr('fill', `url(#${gid})`)
  const lf = d3.format(o.legendFmt)
  o.padjLegend.forEach(v => {
    lg.append('line').attr('x1', o.padjX + 2).attr('x2', o.padjX + 3.5).attr('y1', cb(v)).attr('y2', cb(v)).attr('stroke', '#fff').attr('stroke-width', 0.6)
    lg.append('line').attr('x1', o.padjX + 7.5).attr('x2', o.padjX + 9).attr('y1', cb(v)).attr('y2', cb(v)).attr('stroke', '#fff').attr('stroke-width', 0.6)
    lg.append('text').attr('x', o.padjX + 12).attr('y', cb(v) + 2.3).attr('font-size', 6.6).attr('fill', '#222').text(lf(v))
  })
}

dotPlot({
  id: 'bm', names: bmPathways, ratio: bmRatio, count: bmCount, padj: bmPadj,
  xDomain: [0.0142, 0.0722], left: 160, right: 265, top: 16, bottom: 195, first: 22.3, last: 189,
  ticks: bmTicks, fmt: '.2f', countRange: [6, 25], rRange: [2, 5], padjStops: [0.012, 0.072, 0.132],
  title: 'Down-regulated pathway (bone marrow)', titleX: 151,
  countLegend: bmCountLegend, countX: 268, countY: 65, countGap: 1.4, minGap: 7.8,
  padjLegend: bmPadjLegend, legendFmt: '.3f', padjX: 268, padjY: 111, barH: 38
})
dotPlot({
  id: 'pb', names: pbPathways, ratio: pbRatio, count: pbCount, padj: pbPadj,
  xDomain: [0.0123, 0.1115], left: 468, right: 570, top: 17, bottom: 195, first: 25.7, last: 189.3,
  ticks: pbTicks, fmt: '.3f', countRange: [1, 6], rRange: [1.3, 5], padjStops: [0.05, 0.37, 0.695],
  title: 'Down-regulated pathway (peripheral blood)', titleX: 466,
  countLegend: pbCountLegend, countX: 574, countY: 110, countGap: 1.2, minGap: 7.2,
  padjLegend: pbPadjLegend, legendFmt: '.1f', padjX: 575, padjY: 60, barH: 34
})

// (B)/(D) violin plot
function violinPlot (o) {
  const g = svg.append('g')
  const x = d3.scalePoint().domain(clusters).range([o.left, o.right]).padding(o.pad)
  const y = d3.scaleLinear().domain(o.domain).range([o.bottom, o.top])

  g.append('g').attr('transform', `translate(${o.left},0)`)
    .call(d3.axisLeft(y).tickValues(o.ticks).tickFormat(d3.format(o.fmt)).tickSize(o.tk).tickPadding(o.ytp).tickSizeOuter(0))
    .call(styleAxis, o.axisColor, o.fs)
  g.append('g').attr('transform', `translate(0,${o.bottom})`)
    .call(d3.axisBottom(x).tickSize(o.tk).tickPadding(o.xtp).tickSizeOuter(0))
    .call(styleAxis, o.axisColor, o.fs)

  if (o.title) label((x('0') + x('6')) / 2, o.titleY, o.title, o.titleSize, 'middle')

  o.knots.forEach((k, i) => {
    const cx = x(clusters[i])
    const area = d3.area().curve(d3.curveBasis)
      .y(d => y(d[0])).x0(d => cx - d[1] * o.hw).x1(d => cx + d[1] * o.hw)
    g.append('path').attr('d', area(k)).attr('fill', clusterColors[i])
      .attr('stroke', '#333').attr('stroke-width', o.outline)
    const [q1, med, q3] = o.boxes[i]
    const lo = k[0][0]; const hi = k[k.length - 1][0]
    const iqr = q3 - q1
    const wLo = Math.max(lo, q1 - 1.5 * iqr); const wHi = Math.min(hi, q3 + 1.5 * iqr)
    g.append('line').attr('x1', cx).attr('x2', cx).attr('y1', y(wLo)).attr('y2', y(wHi))
      .attr('stroke', o.whisker).attr('stroke-width', o.whiskerW)
    const tails = []
    if (lo < wLo) tails.push([lo, wLo])
    if (hi > wHi) tails.push([wHi, hi])
    tails.forEach(t => {
      g.append('line').attr('x1', cx).attr('x2', cx).attr('y1', y(t[0])).attr('y2', y(t[1]))
        .attr('stroke', '#111').attr('stroke-width', o.dot).attr('stroke-linecap', 'round')
        .attr('stroke-dasharray', `0,${o.dot * o.dotGap}`)
    })
    g.append('rect').attr('x', cx - o.boxW / 2).attr('width', o.boxW)
      .attr('y', y(q3)).attr('height', Math.max(0.6, y(q1) - y(q3)))
      .attr('fill', '#fff').attr('stroke', '#111').attr('stroke-width', o.boxStroke)
    g.append('line').attr('x1', cx - o.boxW / 2).attr('x2', cx + o.boxW / 2)
      .attr('y1', y(med)).attr('y2', y(med)).attr('stroke', '#111').attr('stroke-width', o.boxStroke)
  })

  o.sig.forEach(s => {
    const yy = y(s[3])
    g.append('line').attr('x1', x(clusters[s[0]])).attr('x2', x(clusters[s[1]]))
      .attr('y1', yy).attr('y2', yy).attr('stroke', '#222').attr('stroke-width', o.sigW)
    g.append('text').attr('x', (x(clusters[s[0]]) + x(clusters[s[1]])) / 2).attr('y', yy + o.starDy)
      .attr('font-size', o.starSize).attr('text-anchor', 'middle').attr('fill', '#222').text(s[2])
  })
}

const smallViolin = {
  pad: 0.4, tk: 2, ytp: 2.5, fmt: 'd', axisColor: '#9a9a9a', fs: 9.5, hw: 5.8, boxW: 3,
  outline: 0.3, whisker: '#777', whiskerW: 0.5, dot: 1.1, dotGap: 1.5, boxStroke: 0.4, sigW: 0.7,
  starSize: 6, starDy: 0.8, titleSize: 10
}
violinPlot({ ...smallViolin, left: 30, right: 101, pad: 0.38, top: 280, bottom: 348, domain: [-0.27, 3.44],
  ticks: [0, 1, 2, 3], xtp: 1.3, title: 'CD69', titleY: 256, knots: bmCD69Violin, boxes: bmCD69Box, sig: bmCD69Sig })
violinPlot({ ...smallViolin, left: 120, right: 195, pad: 0.69, top: 280, bottom: 348, domain: [-0.27, 4.35],
  ticks: [0, 1, 2, 3, 4], xtp: 1.3, title: 'GZMA', titleY: 256, knots: bmGZMAViolin, boxes: bmGZMABox, sig: bmGZMASig })
violinPlot({ ...smallViolin, left: 210, right: 287, pad: 0.79, top: 280, bottom: 348, domain: [-0.48, 6.1],
  ticks: [0, 2, 4, 6], xtp: 1.3, title: 'GNLY', titleY: 256, knots: bmGNLYViolin, boxes: bmGNLYBox, sig: bmGNLYSig })
violinPlot({ ...smallViolin, left: 30, right: 101, pad: 0.49, top: 427, bottom: 494, domain: [-0.18, 3.93],
  ticks: [0, 1, 2, 3], xtp: 2.3, title: 'CD69', titleY: 400, knots: pbCD69Violin, boxes: pbCD69Box, sig: pbCD69Sig })
violinPlot({ ...smallViolin, left: 120, right: 196, pad: 0.68, top: 427, bottom: 494, domain: [-0.2, 4.58],
  ticks: [0, 1, 2, 3, 4], xtp: 2.3, title: 'GZMA', titleY: 400, knots: pbGZMAViolin, boxes: pbGZMABox, sig: pbGZMASig })
violinPlot({ ...smallViolin, left: 210, right: 287, pad: 0.79, top: 427, bottom: 494, domain: [-0.4, 6.65],
  ticks: [0, 2, 4, 6], xtp: 2.3, title: 'GNLY', titleY: 400, knots: pbGNLYViolin, boxes: pbGNLYBox, sig: pbGNLYSig })

const bigViolin = {
  tk: 3, ytp: 2, xtp: 5.5, fmt: '.1f', axisColor: '#555', fs: 12, hw: 12.5, boxW: 7,
  outline: 0.5, whisker: '#111', whiskerW: 0.7, dot: 2, dotGap: 2.2, boxStroke: 0.8, sigW: 1, starSize: 9, starDy: 1.5
}
violinPlot({ ...bigViolin, left: 50, right: 244, pad: 0.59, top: 583, bottom: 709, domain: [-0.19, 1.67],
  ticks: [0, 0.5, 1, 1.5], knots: cytoBmViolin, boxes: cytoBmBox, sig: cytoBmSig })
violinPlot({ ...bigViolin, left: 352, right: 548, pad: 0.63, top: 585, bottom: 710, domain: [0.08, 1.535],
  ticks: [0.5, 1, 1.5], knots: cytoPbViolin, boxes: cytoPbBox, sig: cytoPbSig })

// (C) box + jitter
function boxJitter (o) {
  const g = svg.append('g')
  const x = d3.scalePoint().domain(groups).range([o.left, o.right]).padding(0.6)
  const y = d3.scaleLinear().domain(o.domain).range([o.bottom, o.top])
  g.append('g').attr('transform', `translate(${o.left},0)`)
    .call(d3.axisLeft(y).tickValues(o.ticks).tickFormat(d3.format(o.fmt)).tickSize(2).tickPadding(2).tickSizeOuter(0))
    .call(styleAxis, '#444', 7.5)
  g.append('g').attr('transform', `translate(0,${o.bottom})`)
    .call(d3.axisBottom(x).tickSize(2).tickPadding(o.xtp).tickSizeOuter(0))
    .call(styleAxis, '#444', 8)
  label(x('Pre'), o.titleY, o.title, 9, 'middle')

  const bw = x.step() * 0.68
  o.points.forEach((pts, gi) => {
    const cx = x(groups[gi])
    const [lo, q1, med, q3, hi] = o.box[gi]
    const bc = groupBoxColors[gi]
    g.append('line').attr('x1', cx).attr('x2', cx).attr('y1', y(lo)).attr('y2', y(q1)).attr('stroke', bc).attr('stroke-width', 0.8)
    g.append('line').attr('x1', cx).attr('x2', cx).attr('y1', y(q3)).attr('y2', y(hi)).attr('stroke', bc).attr('stroke-width', 0.8)
    g.append('rect').attr('x', cx - bw / 2).attr('width', bw).attr('y', y(q3)).attr('height', y(q1) - y(q3))
      .attr('fill', 'none').attr('stroke', bc).attr('stroke-width', 1)
    g.append('line').attr('x1', cx - bw / 2).attr('x2', cx + bw / 2).attr('y1', y(med)).attr('y2', y(med))
      .attr('stroke', bc).attr('stroke-width', 1)
    g.selectAll(null).data(pts).join('circle')
      .attr('cx', (d, j) => cx + (((j * 0.618034) % 1) - 0.5) * bw * 0.95)
      .attr('cy', d => y(d)).attr('r', 1).attr('fill', groupColors[gi]).attr('opacity', 0.9)
  })

  o.sig.forEach(s => {
    const yy = y(s[3])
    const x1 = x(groups[s[0]]) - 5; const x2 = x(groups[s[1]]) - 2
    g.append('line').attr('x1', x1).attr('x2', x2).attr('y1', yy).attr('y2', yy).attr('stroke', '#333').attr('stroke-width', 1)
    g.append('text').attr('x', (x1 + x2) / 2).attr('y', s[2] === 'ns' ? yy - 1.8 : yy + 2)
      .attr('font-size', 9).attr('text-anchor', 'middle').attr('fill', '#222').text(s[2])
  })
}

boxJitter({ left: 327, right: 405, top: 257, bottom: 348, domain: [-0.23, 3.9], ticks: [0, 1, 2, 3], fmt: 'd', xtp: 2.3,
  title: 'CD69', titleY: 257, points: cBmCD69Pts, box: cBmCD69Box, sig: cBmCD69Sig })
boxJitter({ left: 415, right: 497, top: 257, bottom: 348, domain: [-0.4, 5.6], ticks: [0, 1, 2, 3, 4, 5], fmt: 'd', xtp: 2.3,
  title: 'GZMA', titleY: 257, points: cBmGZMAPts, box: cBmGZMABox, sig: cBmGZMASig })
boxJitter({ left: 511, right: 593, top: 257, bottom: 348, domain: [-0.5, 7.3], ticks: [0, 2, 4, 6], fmt: 'd', xtp: 2.3,
  title: 'GNLY', titleY: 257, points: cBmGNLYPts, box: cBmGNLYBox, sig: cBmGNLYSig })
boxJitter({ left: 327, right: 405, top: 410, bottom: 492, domain: [-0.22, 2.8], ticks: [0, 0.5, 1, 1.5, 2, 2.5], fmt: '.1f', xtp: 4,
  title: 'CD69', titleY: 400, points: cPbCD69Pts, box: cPbCD69Box, sig: cPbCD69Sig })
boxJitter({ left: 415, right: 497, top: 410, bottom: 492, domain: [-0.42, 4.48], ticks: [0, 1, 2, 3, 4], fmt: 'd', xtp: 4,
  title: 'GZMA', titleY: 400, points: cPbGZMAPts, box: cPbGZMABox, sig: cPbGZMASig })
boxJitter({ left: 511, right: 593, top: 410, bottom: 492, domain: [-0.6, 6.8], ticks: [0, 2, 4, 6], fmt: 'd', xtp: 4,
  title: 'GNLY', titleY: 400, points: cPbGNLYPts, box: cPbGNLYBox, sig: cPbGNLYSig })

// (E) GSEA
function gseaPlot (o) {
  const g = svg.append('g')
  const x = d3.scaleLinear().domain([0, o.n]).range([o.left, o.right])
  const yEs = d3.scaleLinear().domain(o.esDomain).range([o.esBottom, o.esTop])
  const yRk = d3.scaleLinear().domain([-1, 1]).range([o.rkBottom, o.rkTop])

  g.selectAll('.grid').data(o.grid).join('line').attr('class', 'grid')
    .attr('x1', x).attr('x2', x).attr('y1', o.esTop).attr('y2', o.axisY)
    .attr('stroke', '#e4e4e4').attr('stroke-width', 1)
  g.selectAll('.band').data(o.bands).join('rect').attr('class', 'band')
    .attr('x', d => x(d[0])).attr('width', d => x(d[1]) - x(d[0]))
    .attr('y', o.hitBottom).attr('height', o.bandH).attr('fill', d => d[2])
  g.selectAll('.hit').data(o.hits).join('line').attr('class', 'hit')
    .attr('x1', x).attr('x2', x).attr('y1', o.hitTop).attr('y2', o.hitBottom)
    .attr('stroke', '#000').attr('stroke-width', 0.9)
  g.append('path').datum(o.metric)
    .attr('d', d3.area().x(d => x(d[0])).y0(yRk(0)).y1(d => yRk(d[1])).curve(d3.curveMonotoneX))
    .attr('fill', '#ababab')
  g.append('line').attr('x1', o.left).attr('x2', o.right).attr('y1', yRk(0)).attr('y2', yRk(0))
    .attr('stroke', '#8c8c8c').attr('stroke-width', 0.5)
  g.append('path').datum(o.es)
    .attr('d', d3.line().x(d => x(d[0])).y(d => yEs(d[1])))
    .attr('fill', 'none').attr('stroke', '#5cb531').attr('stroke-width', 2.2).attr('stroke-linejoin', 'round')

  g.append('g').attr('transform', `translate(${o.left},0)`)
    .call(d3.axisLeft(yEs).tickValues(o.esTicks).tickFormat(d3.format('.1f')).tickSize(2).tickPadding(2))
    .call(styleAxis, '#222', 7.5, '#333')
    .call(a => a.select('.domain').remove())
  g.append('g').attr('transform', `translate(${o.left},0)`)
    .call(d3.axisLeft(yRk).tickValues([1, 0, -1]).tickFormat(d3.format('.1f')).tickSize(2).tickPadding(2))
    .call(styleAxis, '#222', 7.5, '#333')
    .call(a => a.select('.domain').remove())
  g.append('line').attr('x1', o.left).attr('x2', o.left).attr('y1', o.esTop).attr('y2', o.axisY)
    .attr('stroke', '#222').attr('stroke-width', 1)
  g.append('g').attr('transform', `translate(0,${o.axisY})`)
    .call(d3.axisBottom(x).tickValues(o.xTicks).tickFormat(d3.format('d')).tickSize(2).tickPadding(3).tickSizeOuter(0))
    .call(styleAxis, '#222', 8.5, '#333')

  label(o.textX, o.textY, o.pText, 9.5)
  label(o.textX, o.textY + 11, o.nesText, 9.5)
  label(o.titleX, 766, 'Hallmark_apoptosis', 9.5, 'middle')
  vlabel(o.ylabX, o.esLabY, 'Running Enrichment Score', 8)
  vlabel(o.ylabX, o.rkLabY, 'Ranked list metric', 8)
  label((o.left + o.right) / 2, 955, 'Rank in ordered dataset', 9, 'middle')
}

gseaPlot({
  n: 6900, left: 45, right: 275, esDomain: [-0.13, 0.425], esTop: 781.7, esBottom: 855.2,
  hitTop: 856, hitBottom: 874, bandH: 8, rkTop: 887, rkBottom: 920, axisY: 923,
  grid: [1000, 2000, 3000, 4000, 5000, 6000], xTicks: [2000, 4000, 6000], esTicks: [0.4, 0, -0.1],
  es: bmEs, hits: bmHits, bands: bmBands, metric: bmMetric,
  pText: 'p value=0.002', nesText: 'NES=1.807', textX: 197, textY: 796, titleX: 152, ylabX: 26, esLabY: 823, rkLabY: 917
})
gseaPlot({
  n: 5800, left: 356, right: 578, esDomain: [-0.11, 0.38], esTop: 772, esBottom: 852,
  hitTop: 852, hitBottom: 871, bandH: 8, rkTop: 889, rkBottom: 923, axisY: 924,
  grid: [500, 1000, 1500, 2000, 2500, 3000, 3500, 4000, 4500, 5000, 5500], xTicks: [1000, 2000, 3000, 4000, 5000],
  esTicks: [0.3, 0, -0.1], es: pbEs, hits: pbHits, bands: pbBands, metric: pbMetric,
  pText: 'p value=0.01', nesText: 'NES=1.619', textX: 510, textY: 786, titleX: 468, ylabX: 334, esLabY: 824, rkLabY: 918
})

// ---------- titles and panel letters ----------
label(2, 14, '(A)', 13)
label(2, 238, '(B)', 13)
label(292, 238, '(C)', 13)
label(2, 542, '(D)', 13)
label(2, 753, '(E)', 13)

label(157, 234, 'Bone marrow', 9.5, 'middle')
label(157, 371, 'Peripheral blood', 9.5, 'middle')
label(461, 234, 'Bone marrow', 9.5, 'middle')
label(468, 373, 'Peripheral blood', 10, 'middle')
vlabel(14, 383, 'Relative expression', 9.5)
vlabel(308, 383, 'Relative expression', 9.5)

label(148, 537, 'Bone marrow', 12, 'middle')
label(148, 551, 'Cytotoxicity', 12, 'middle')
label(451, 537, 'Peripheral blood', 12, 'middle')
label(452, 551, 'Cytotoxicity', 12, 'middle')
vlabel(23, 648, 'Relative expression', 12)
vlabel(323, 637, 'Relative expression', 12)

label(154, 749, 'Bone marrow', 12, 'middle')
label(452, 749, 'Peripheral blood', 12, 'middle')
</script>
</body>
</html>
